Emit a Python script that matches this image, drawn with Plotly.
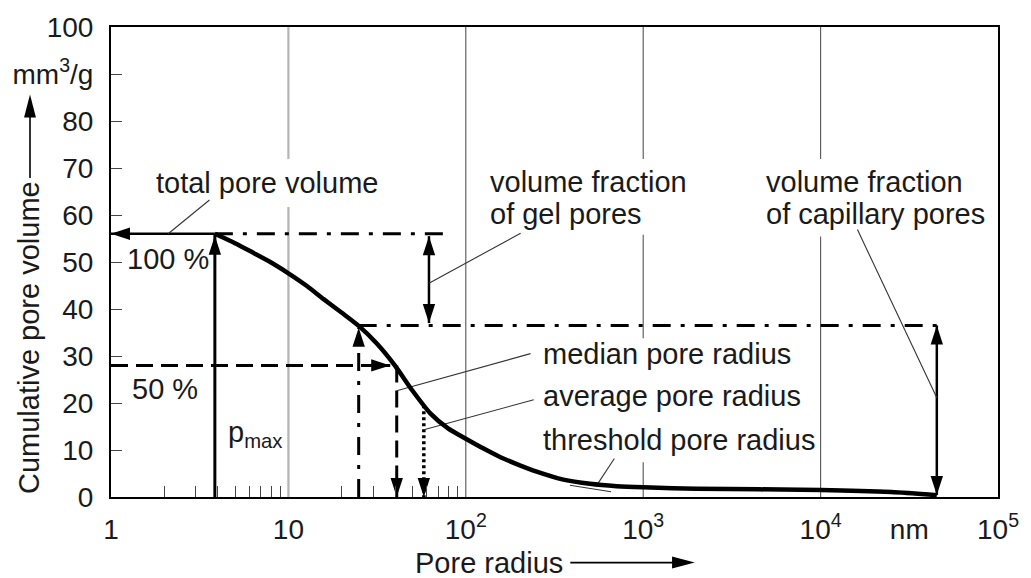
import math
import plotly.graph_objects as go

# ---------------- data ----------------
pore_radius_nm = [3.85, 5.0, 6.3, 7.9, 10, 12.6, 15.8, 20, 25.1, 31.6, 39.8, 50.1, 63.1, 79.4,
                  100, 126, 158, 200, 251, 355, 501, 708, 1000, 2000, 10000, 25000, 45200]
cumulative_volume = [56.0, 54.0, 52.0, 50.0, 47.6, 45.0, 42.1, 39.2, 36.3, 32.6, 28.0, 22.6,
                     17.8, 14.6, 12.4, 10.3, 8.4, 6.8, 5.4, 3.7, 2.8, 2.3, 2.05, 1.75, 1.5,
                     1.05, 0.4]

total_pore_volume = 56.0
pmax_radius = 3.85
gel_line_end_radius = 81.0
threshold_radius = 24.9
threshold_volume = 36.5
capillary_radius = 45200.0
capillary_volume = 0.4
median_radius = 40.8
median_volume = 28.0
median_arrow_radius = 37.5
average_radius = 58.0
average_volume = 19.5
gel_arrow_radius = 62.0

x_tick_vals = [1, 10, 100, 1000, 10000, 31623, 100000]
x_tick_text = ["1", "10", "10<sup>2</sup>", "10<sup>3</sup>", "10<sup>4</sup>", "nm",
               "10<sup>5</sup>"]
x_minor_vals = [2, 3, 4, 5, 6, 7, 8, 9, 20, 30, 40, 50, 60, 70, 80, 90]
y_tick_vals = [0, 10, 20, 30, 40, 50, 60, 70, 80, 90, 100]
y_tick_text = ["0", "10", "20", "30", "40", "50", "60", "70", "80", "mm<sup>3</sup>/g", "100"]

# vertical grid lines (radius, visible y-segments)
grid_radius = [10, 100, 1000, 10000]
grid_segments = [
    [(0, 61.7), (71.9, 100)],
    [(0, 100)],
    [(0, 7.4), (33.8, 55.8), (71.9, 100)],
    [(0, 55.4), (71.9, 100)],
]
grid_colors = ["#b4b4b4", "#555555", "#555555", "#555555"]
grid_widths = [2.2, 1.1, 1.1, 1.1]

FONT = "Liberation Sans, Arial, sans-serif"
TXT = "#1a1a1a"
DASHDOT = "18px,10px,4px,10px"
DASHED = "17px,8px"
DOTTED = "3px,3px"

fig = go.Figure()


def add_line(xs, ys, width=2.5, dash="solid", color="black", shape="linear"):
    fig.add_trace(go.Scatter(x=xs, y=ys, mode="lines", hoverinfo="skip", showlegend=False,
                             line=dict(color=color, width=width, dash=dash, shape=shape)))


# grid lines
for gx, segs, gc, gw in zip(grid_radius, grid_segments, grid_colors, grid_widths):
    xs, ys = [], []
    for a, b in segs:
        xs += [gx, gx, None]
        ys += [a, b, None]
    add_line(xs, ys, width=gw, color=gc)

# reference lines
add_line([pmax_radius, gel_line_end_radius], [total_pore_volume] * 2, width=3, dash=DASHDOT)
add_line([threshold_radius, capillary_radius * 1.07], [threshold_volume] * 2, width=3, dash=DASHDOT)
add_line([threshold_radius, threshold_radius], [0, threshold_volume - 0.5], width=3, dash=DASHDOT)
add_line([1, median_arrow_radius], [median_volume] * 2, width=3, dash=DASHED)
add_line([median_radius, median_radius], [median_volume, 0], width=3, dash=DASHED)
add_line([average_radius, average_radius], [average_volume, 0], width=3.5, dash=DOTTED)
add_line([pmax_radius, 1], [total_pore_volume] * 2, width=2.5)
add_line([pmax_radius, pmax_radius], [0, total_pore_volume], width=3)
add_line([gel_arrow_radius] * 2, [threshold_volume + 0.5, total_pore_volume - 0.5], width=2.5)
add_line([capillary_radius] * 2, [capillary_volume, threshold_volume], width=2.5)

# leader lines (thin)
leaders = [
    ([3.59, 2.10], [63.2, total_pore_volume]),
    ([203.7, gel_arrow_radius], [56.1, 45.5]),
    ([16130, capillary_radius], [56.9, 21.1]),
    ([231.5, median_radius], [30.5, 22.6]),
    ([241.5, average_radius], [20.7, 14.3]),
    ([688, 556], [8.2, 2.9]),
    ([386, 659], [2.5, 1.1]),
]
for lxs, lys in leaders:
    add_line(lxs, lys, width=1.1, color="#333333")

# the curve
fig.add_trace(go.Scatter(x=pore_radius_nm, y=cumulative_volume, mode="lines", showlegend=False,
                         hoverinfo="skip",
                         line=dict(color="black", width=4.5, shape="spline", smoothing=0.7)))

# arrow heads (tip at the point)
heads = [
    (1.0, total_pore_volume, 270),
    (pmax_radius, total_pore_volume - 0.4, 0),
    (threshold_radius, threshold_volume - 0.5, 0),
    (median_arrow_radius, median_volume, 90),
    (median_radius, 0, 180),
    (average_radius, 0, 180),
    (gel_arrow_radius, total_pore_volume - 0.5, 0),
    (gel_arrow_radius, threshold_volume + 0.5, 180),
    (capillary_radius, threshold_volume, 0),
    (capillary_radius, capillary_volume, 180),
]
fig.add_trace(go.Scatter(
    x=[h[0] for h in heads], y=[h[1] for h in heads], mode="markers", showlegend=False,
    hoverinfo="skip",
    marker=dict(symbol="arrow", size=20, angle=[h[2] for h in heads], color="black",
                line=dict(width=0))))

# text labels
labels = [
    ("total pore volume", 1.74, 66.8),
    ("volume fraction", 134, 67.0),
    ("of gel pores", 134, 60.3),
    ("volume fraction", 4786, 67.0),
    ("of capillary pores", 4786, 60.3),
    ("median pore radius", 264, 30.4),
    ("average pore radius", 264, 21.4),
    ("threshold pore radius", 264, 12.1),
    ("100 %", 1.2, 50.7),
    ("50 %", 1.28, 23.0),
    ("p<sub>max</sub>", 4.43, 13.5),
]
for t, lx, ly in labels:
    fig.add_annotation(x=math.log10(lx), y=ly, xref="x", yref="y", text=t, showarrow=False,
                       xanchor="left", yanchor="middle",
                       font=dict(family=FONT, size=29, color=TXT))

# axis titles with arrows (paper coordinates)
W, H, L, T = 898.0, 473.0, 107.0, 24.0


def px(xp, yp):
    return (xp - L) / W, (T + H - yp) / H


tx, ty = px(24, 337)
fig.add_annotation(x=tx, y=ty, xref="paper", yref="paper", text="Cumulative pore volume",
                   textangle=-90, showarrow=False, xanchor="center", yanchor="middle",
                   font=dict(family=FONT, size=29, color=TXT))
tx, ty = px(413, 563)
fig.add_annotation(x=tx, y=ty, xref="paper", yref="paper", text="Pore radius",
                   showarrow=False, xanchor="left", yanchor="middle",
                   font=dict(family=FONT, size=29, color=TXT))

# title arrows
x0, y0 = px(25, 176)
x1, y1 = px(25, 110)
fig.add_shape(type="line", xref="paper", yref="paper", x0=x0, y0=y0, x1=x1, y1=y1,
              line=dict(color="black", width=1.6))
a, b = px(25, 92)
c, d = px(19, 115)
e, f = px(31, 115)
fig.add_shape(type="path", xref="paper", yref="paper",
              path=f"M{a},{b} L{c},{d} L{e},{f} Z", fillcolor="black", line=dict(width=0))
x0, y0 = px(572, 563)
x1, y1 = px(680, 563)
fig.add_shape(type="line", xref="paper", yref="paper", x0=x0, y0=y0, x1=x1, y1=y1,
              line=dict(color="black", width=1.6))
a, b = px(698, 563)
c, d = px(675, 557)
e, f = px(675, 569)
fig.add_shape(type="path", xref="paper", yref="paper",
              path=f"M{a},{b} L{c},{d} L{e},{f} Z", fillcolor="black", line=dict(width=0))

fig.update_layout(
    width=1031, height=578,
    margin=dict(l=107, r=26, t=24, b=81),
    paper_bgcolor="white", plot_bgcolor="white",
    font=dict(family=FONT, size=28, color=TXT),
    showlegend=False,
)
fig.update_xaxes(
    type="log", range=[0, 5], showgrid=False, zeroline=False,
    tickmode="array", tickvals=x_tick_vals, ticktext=x_tick_text, ticks="",
    showline=True, linecolor="black", linewidth=2, mirror=True,
    tickfont=dict(family=FONT, size=28, color=TXT), ticklabelstandoff=6,
    minor=dict(tickmode="array", tickvals=x_minor_vals, ticks="inside", ticklen=11,
               tickwidth=1.3, tickcolor="#444444", showgrid=False),
)
fig.update_yaxes(
    range=[0, 100], showgrid=False, zeroline=False,
    tickmode="array", tickvals=y_tick_vals, ticktext=y_tick_text,
    ticks="inside", ticklen=11, tickwidth=1.3, tickcolor="#444444",
    showline=True, linecolor="black", linewidth=2, mirror=True,
    tickfont=dict(family=FONT, size=28, color=TXT), ticklabelstandoff=10,
)

fig.write_html("out.html")
